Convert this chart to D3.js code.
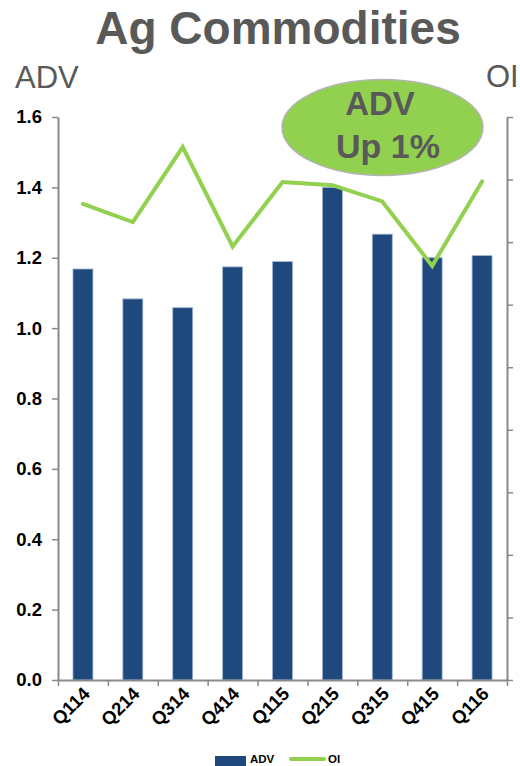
<!DOCTYPE html>
<html>
<head>
<meta charset="utf-8">
<script src="https://cdn.jsdelivr.net/npm/d3@7"></script>
<style>
  html, body { margin: 0; padding: 0; background: #ffffff; }
  svg { display: block; }
  text { font-family: "Liberation Sans", Arial, sans-serif; }
</style>
</head>
<body>
<svg id="chart" width="520" height="766"></svg>
<script>
// Quarterly agricultural commodities: average daily volume (bars) and open interest (line)
const quarters = ["Q114", "Q214", "Q314", "Q414", "Q115", "Q215", "Q315", "Q415", "Q116"];
const advValues = [1.168, 1.083, 1.058, 1.174, 1.189, 1.400, 1.267, 1.200, 1.206];
const oiValues = [7.61, 7.32, 8.52, 6.93, 7.96, 7.91, 7.65, 6.62, 7.97];
const advTicks = [0, 0.2, 0.4, 0.6, 0.8, 1.0, 1.2, 1.4, 1.6];
const oiTicks = [0, 1, 2, 3, 4, 5, 6, 7, 8, 9];

const svg = d3.select("#chart");
const plotLeft = 58, plotRight = 507, plotTop = 117, plotBottom = 680;
const axisColor = "#898989";
const textGray = "#595959";
const barFill = "#1F497D";
const lineGreen = "#92D050";

const xBand = d3.scaleBand().domain(quarters).range([plotLeft, plotRight])
  .paddingInner(0.6).paddingOuter(0.3);
const xEdge = d3.scaleLinear().domain([0, quarters.length]).range([plotLeft, plotRight]);
const yAdv = d3.scaleLinear().domain([0, 1.6]).range([plotBottom, plotTop]);
const yOi = d3.scaleLinear().domain([0, 9]).range([plotBottom, plotTop]);

// Title and axis captions
svg.append("text").attr("x", 278).attr("y", 44).attr("text-anchor", "middle")
  .attr("font-size", 46).attr("font-weight", "bold").attr("fill", textGray)
  .text("Ag Commodities");
svg.append("text").attr("x", 15).attr("y", 88)
  .attr("font-size", 31).attr("fill", textGray).text("ADV");
svg.append("text").attr("x", 486).attr("y", 87)
  .attr("font-size", 31).attr("fill", textGray).text("OI");

// Bars
svg.append("g").selectAll("rect").data(quarters).join("rect")
  .attr("x", d => xBand(d))
  .attr("width", xBand.bandwidth())
  .attr("y", (d, i) => yAdv(advValues[i]))
  .attr("height", (d, i) => plotBottom - yAdv(advValues[i]))
  .attr("fill", barFill)
  .attr("stroke", "#9fb4d3")
  .attr("stroke-width", 0.8);

// Left axis
const gLeft = svg.append("g").attr("transform", `translate(${plotLeft},0)`)
  .call(d3.axisLeft(yAdv).tickValues(advTicks).tickFormat(d3.format(".1f"))
    .tickSize(6).tickSizeOuter(0).tickPadding(10));
gLeft.selectAll("text").attr("font-size", 18.5).attr("font-weight", "bold")
  .attr("fill", "#000").attr("font-family", "Liberation Sans, Arial, sans-serif");

// Right axis (unlabelled)
const gRight = svg.append("g").attr("transform", `translate(${plotRight},0)`)
  .call(d3.axisRight(yOi).tickValues(oiTicks).tickFormat("").tickSize(6).tickSizeOuter(0));

// Bottom axis: ticks on category boundaries
const gBottom = svg.append("g").attr("transform", `translate(0,${plotBottom})`)
  .call(d3.axisBottom(xEdge).tickValues(d3.range(quarters.length + 1)).tickFormat("")
    .tickSize(6).tickSizeOuter(0));

[gLeft, gRight, gBottom].forEach(g => {
  g.select(".domain").attr("stroke", axisColor).attr("stroke-width", 2);
  g.selectAll(".tick line").attr("stroke", axisColor).attr("stroke-width", 1.5);
});

// Category labels, rotated
svg.append("g").selectAll("text").data(quarters).join("text")
  .attr("transform", d => `translate(${xBand(d) + xBand.bandwidth() / 2 + 8},${plotBottom + 15}) rotate(-45)`)
  .attr("text-anchor", "end")
  .attr("font-size", 18.5).attr("font-weight", "bold").attr("fill", "#000")
  .text(d => d);

// Open interest line
const line = d3.line()
  .x((d, i) => xBand(quarters[i]) + xBand.bandwidth() / 2)
  .y(d => yOi(d));
svg.append("path").datum(oiValues)
  .attr("d", line)
  .attr("fill", "none")
  .attr("stroke", lineGreen)
  .attr("stroke-width", 4)
  .attr("stroke-linejoin", "miter")
  .attr("stroke-linecap", "round");

// Callout
const callout = svg.append("g");
callout.append("ellipse").attr("cx", 382.5).attr("cy", 127.5).attr("rx", 100.5).attr("ry", 48)
  .attr("fill", lineGreen).attr("stroke", "#b4b4b4").attr("stroke-width", 1.5);
callout.append("text").attr("x", 380).attr("y", 115).attr("text-anchor", "middle")
  .attr("font-size", 33).attr("font-weight", "bold").attr("fill", textGray).text("ADV");
callout.append("text").attr("x", 388).attr("y", 158).attr("text-anchor", "middle")
  .attr("font-size", 34).attr("font-weight", "bold").attr("fill", textGray).text("Up 1%");

// Legend
const legend = svg.append("g");
legend.append("rect").attr("x", 215).attr("y", 756).attr("width", 31).attr("height", 10)
  .attr("fill", barFill);
legend.append("text").attr("x", 250).attr("y", 763).attr("font-size", 11.5)
  .attr("font-weight", "bold").attr("fill", "#000").text("ADV");
legend.append("line").attr("x1", 291).attr("x2", 324).attr("y1", 759).attr("y2", 759)
  .attr("stroke", lineGreen).attr("stroke-width", 4).attr("stroke-linecap", "round");
legend.append("text").attr("x", 328).attr("y", 763).attr("font-size", 11.5)
  .attr("font-weight", "bold").attr("fill", "#000").text("OI");
</script>
</body>
</html>
